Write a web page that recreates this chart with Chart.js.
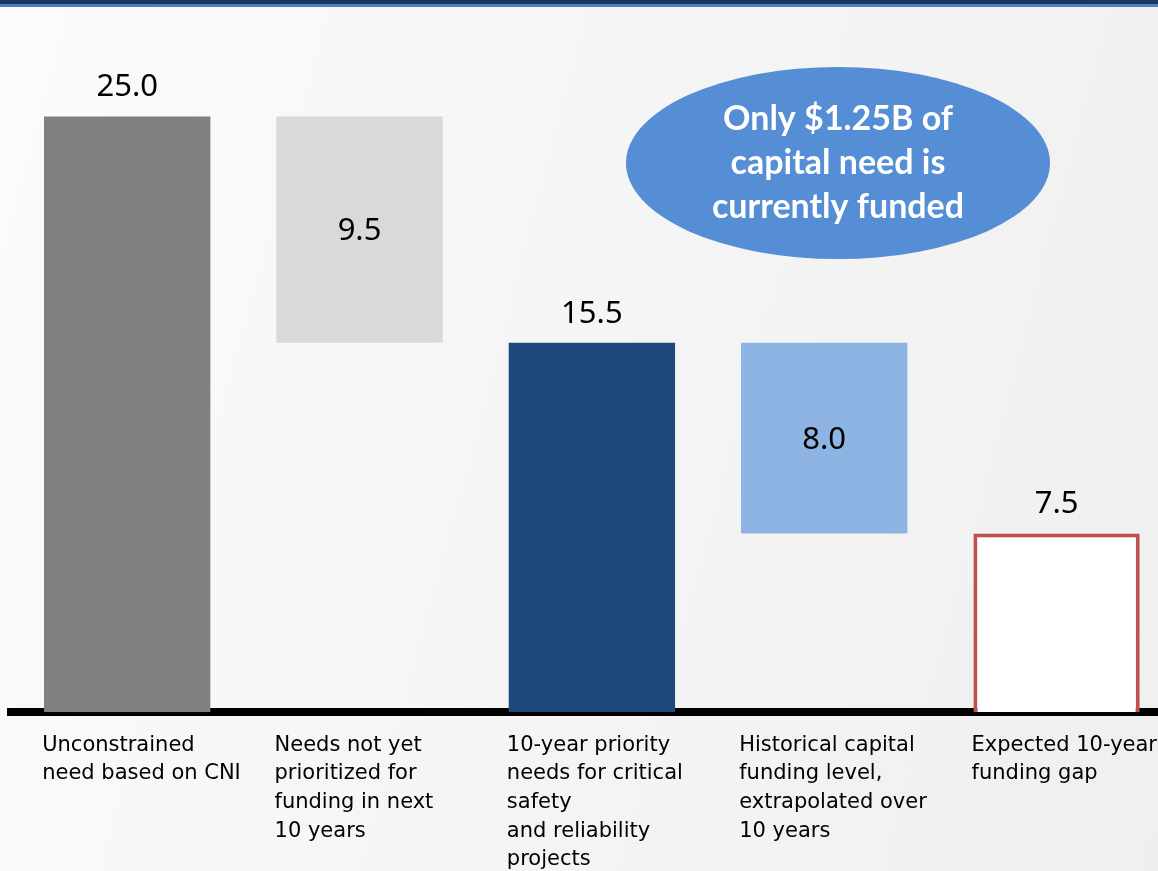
<!DOCTYPE html>
<html>
<head>
<meta charset="utf-8">
<script src="https://cdn.jsdelivr.net/npm/chart.js@4.4.1/dist/chart.umd.min.js"></script>
<style>
  html, body { margin: 0; padding: 0; width: 1158px; height: 871px; overflow: hidden; }
  body { background: linear-gradient(105deg, #fbfbfb 0%, #f5f5f5 50%, #efefef 100%); position: relative; }
  .topband { position: absolute; left: 0; top: 0; width: 1158px; height: 4px; background: #17375e; border-bottom: 3px solid #4f7fbf; z-index: 2; }
  #waterfall { position: absolute; left: 0; top: 0; }
</style>
</head>
<body>
<div class="topband"></div>
<canvas id="waterfall" width="1261" height="893"></canvas>
<script>
// --- chart data ($B) ---
const categories = [
    ['Unconstrained', 'need based on CNI'],
    ['Needs not yet', 'prioritized for', 'funding in next', '10 years'],
    ['10-year priority', 'needs for critical', 'safety', 'and reliability', 'projects'],
    ['Historical capital', 'funding level,', 'extrapolated over', '10 years'],
    ['Expected 10-year', 'funding gap']
];
const barStarts = [0, 15.5, 0, 7.5, 0];
const barEnds = [25.0, 25.0, 15.5, 15.5, 7.5];
const calloutLines = ['Only $1.25B of', 'capital need is', 'currently funded'];

const fillColors = ['#808080', '#d9d9d9', '#1f497d', '#8eb4e3', '#ffffff'];
const edgeColors = ['#808080', '#d9d9d9', '#1f497d', '#8eb4e3', '#c0504d'];
const edgeWidths = [0, 0, 0, 0, 4];

// value labels: above bars that sit on the axis, centred inside floating ones
const valueLabels = {
    id: 'valueLabels',
    afterDatasetsDraw(chart) {
        const ctx = chart.ctx;
        const meta = chart.getDatasetMeta(0);
        ctx.save();
        ctx.fillStyle = '#000';
        ctx.font = "31px 'Noto Sans'";
        ctx.textAlign = 'center';
        meta.data.forEach((bar, i) => {
            const value = (barEnds[i] - barStarts[i]).toFixed(1);
            if (barStarts[i] > 0) {
                ctx.textBaseline = 'middle';
                ctx.fillText(value, bar.x, (bar.y + bar.base) / 2 + 2);
            } else {
                ctx.textBaseline = 'alphabetic';
                ctx.fillText(value, bar.x, Math.min(bar.y, bar.base) - 20);
            }
        });
        ctx.restore();
    }
};

// blue callout ellipse
const callout = {
    id: 'callout',
    afterDraw(chart) {
        const ctx = chart.ctx;
        const cx = 838, cy = 163;
        ctx.save();
        ctx.beginPath();
        ctx.ellipse(cx, cy, 212, 96, 0, 0, Math.PI * 2);
        ctx.fillStyle = '#558ed5';
        ctx.fill();
        ctx.fillStyle = '#ffffff';
        ctx.font = "bold 34px Lato";
        ctx.textAlign = 'center';
        ctx.textBaseline = 'middle';
        calloutLines.forEach((line, i) => {
            ctx.fillText(line, cx, cy - 44 + i * 44);
        });
        ctx.restore();
    }
};

new Chart(document.getElementById('waterfall'), {
    type: 'bar',
    data: {
        labels: categories,
        datasets: [{
            data: barStarts.map((s, i) => [s, barEnds[i]]),
            backgroundColor: fillColors,
            borderColor: edgeColors,
            borderWidth: edgeWidths,
            borderSkipped: 'bottom',
            barPercentage: 0.716,
            categoryPercentage: 1
        }]
    },
    options: {
        responsive: false,
        animation: false,
        devicePixelRatio: 1,
        layout: { padding: { left: 11, right: 0, top: 45, bottom: 0 } },
        plugins: {
            legend: { display: false },
            tooltip: { enabled: false }
        },
        scales: {
            y: { display: false, min: 0, max: 28 },
            x: {
                grid: { display: false, drawTicks: false },
                border: { display: true, color: '#000', width: 8 },
                ticks: {
                    align: 'start',
                    labelOffset: -85,
                    padding: 19,
                    color: '#000',
                    maxRotation: 0,
                    autoSkip: false,
                    font: { family: "'DejaVu Sans'", size: 21, lineHeight: 1.36 }
                }
            }
        }
    },
    plugins: [valueLabels, callout]
});
</script>
</body>
</html>
